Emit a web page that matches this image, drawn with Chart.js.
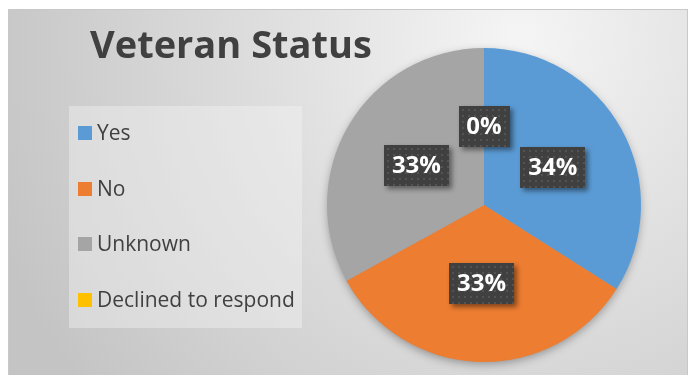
<!DOCTYPE html>
<html>
<head>
<meta charset="utf-8">
<script src="https://cdn.jsdelivr.net/npm/chart.js@4/dist/chart.umd.min.js"></script>
<style>
  html, body { margin: 0; padding: 0; background: #ffffff; }
  #wrap { width: 692px; height: 375px; position: relative; }
</style>
</head>
<body>
<div id="wrap"><canvas id="chart" width="692" height="375"></canvas></div>
<script>
// Veteran status breakdown (percent of respondents)
const titleText = 'Veteran Status';
const categories = ['Yes', 'No', 'Unknown', 'Declined to respond'];
const percentValues = [34, 33, 33, 0];
const sliceColors = ['#5B9BD5', '#ED7D31', '#A5A5A5', '#FFC000'];

const TEXT_COLOR = '#404040';
const FONT = '"Open Sans", "DejaVu Sans", sans-serif';

// Panel background, frame, title and legend
const panelPlugin = {
  id: 'panel',
  beforeDraw(chart) {
    const ctx = chart.ctx;
    const W = chart.width, H = chart.height;
    ctx.save();
    ctx.fillStyle = '#ffffff';
    ctx.fillRect(0, 0, W, H);
    const x0 = 8, y0 = 9, x1 = 688, y1 = H + 2;
    const g = ctx.createRadialGradient(520, 40, 10, 520, 40, 560);
    g.addColorStop(0, '#f4f4f4');
    g.addColorStop(0.45, '#dedede');
    g.addColorStop(1, '#c4c4c4');
    ctx.fillStyle = g;
    ctx.fillRect(x0, y0, x1 - x0, y1 - y0);
    ctx.strokeStyle = '#c8c8c8';
    ctx.lineWidth = 1;
    ctx.strokeRect(x0 + 0.5, y0 + 0.5, x1 - x0 - 1, y1 - y0);

    // title
    ctx.fillStyle = TEXT_COLOR;
    ctx.font = 'bold 38px ' + FONT;
    ctx.textBaseline = 'alphabetic';
    ctx.textAlign = 'left';
    ctx.fillText(titleText, 90, 58);

    // legend panel
    ctx.fillStyle = 'rgba(245,245,245,0.4)';
    ctx.fillRect(69, 106, 233, 222);
    const rows = [133, 189, 244, 300];
    chart.data.labels.forEach((lab, i) => {
      const cy = rows[i];
      ctx.fillStyle = chart.data.datasets[0].backgroundColor[i];
      ctx.fillRect(78, cy - 7, 14, 14);
      ctx.fillStyle = TEXT_COLOR;
      ctx.font = '21px ' + FONT;
      ctx.textBaseline = 'middle';
      ctx.fillText(lab, 97, cy + 1);
    });
    ctx.restore();
  },
  beforeDatasetsDraw(chart) {
    // soft shadow beneath the pie
    const arc = chart.getDatasetMeta(0).data[0];
    if (!arc) return;
    const ctx = chart.ctx;
    ctx.save();
    ctx.shadowColor = 'rgba(0,0,0,0.35)';
    ctx.shadowBlur = 10;
    ctx.shadowOffsetY = 3;
    ctx.fillStyle = '#a0a0a0';
    ctx.beginPath();
    ctx.arc(arc.x, arc.y, arc.outerRadius - 1, 0, Math.PI * 2);
    ctx.fill();
    ctx.restore();
  }
};

// Value callouts: dark dotted boxes with white percentages
const calloutPlugin = {
  id: 'callouts',
  afterDatasetsDraw(chart) {
    const ctx = chart.ctx;
    const meta = chart.getDatasetMeta(0);
    const vals = chart.data.datasets[0].data;
    ctx.save();
    ctx.font = 'bold 24px ' + FONT;
    meta.data.forEach((arc, i) => {
      const p = arc.tooltipPosition();
      const txt = vals[i] + '%';
      const tw = ctx.measureText(txt).width;
      const bw = Math.round(tw + 16), bh = 41;
      const bx = Math.round(p.x - bw / 2), by = Math.round(p.y - bh / 2);
      ctx.save();
      ctx.shadowColor = 'rgba(0,0,0,0.45)';
      ctx.shadowBlur = 5;
      ctx.shadowOffsetX = 3;
      ctx.shadowOffsetY = 3;
      ctx.fillStyle = '#404040';
      ctx.fillRect(bx, by, bw, bh);
      ctx.restore();
      ctx.fillStyle = '#535353';
      for (let yy = by + 3; yy < by + bh - 1; yy += 6) {
        for (let xx = bx + 3; xx < bx + bw - 1; xx += 6) {
          ctx.fillRect(xx, yy, 2, 2);
        }
      }
      ctx.fillStyle = '#ffffff';
      ctx.textAlign = 'center';
      ctx.textBaseline = 'middle';
      ctx.fillText(txt, p.x, p.y + 1);
    });
    ctx.restore();
  }
};

new Chart(document.getElementById('chart'), {
  type: 'pie',
  data: {
    labels: categories,
    datasets: [{
      data: percentValues,
      backgroundColor: sliceColors,
      borderWidth: 0
    }]
  },
  options: {
    responsive: false,
    animation: false,
    layout: { padding: { top: 48, bottom: 13, left: 327, right: 51 } },
    plugins: {
      legend: { display: false },
      tooltip: { enabled: false },
      title: { display: false }
    }
  },
  plugins: [panelPlugin, calloutPlugin]
});
</script>
</body>
</html>
